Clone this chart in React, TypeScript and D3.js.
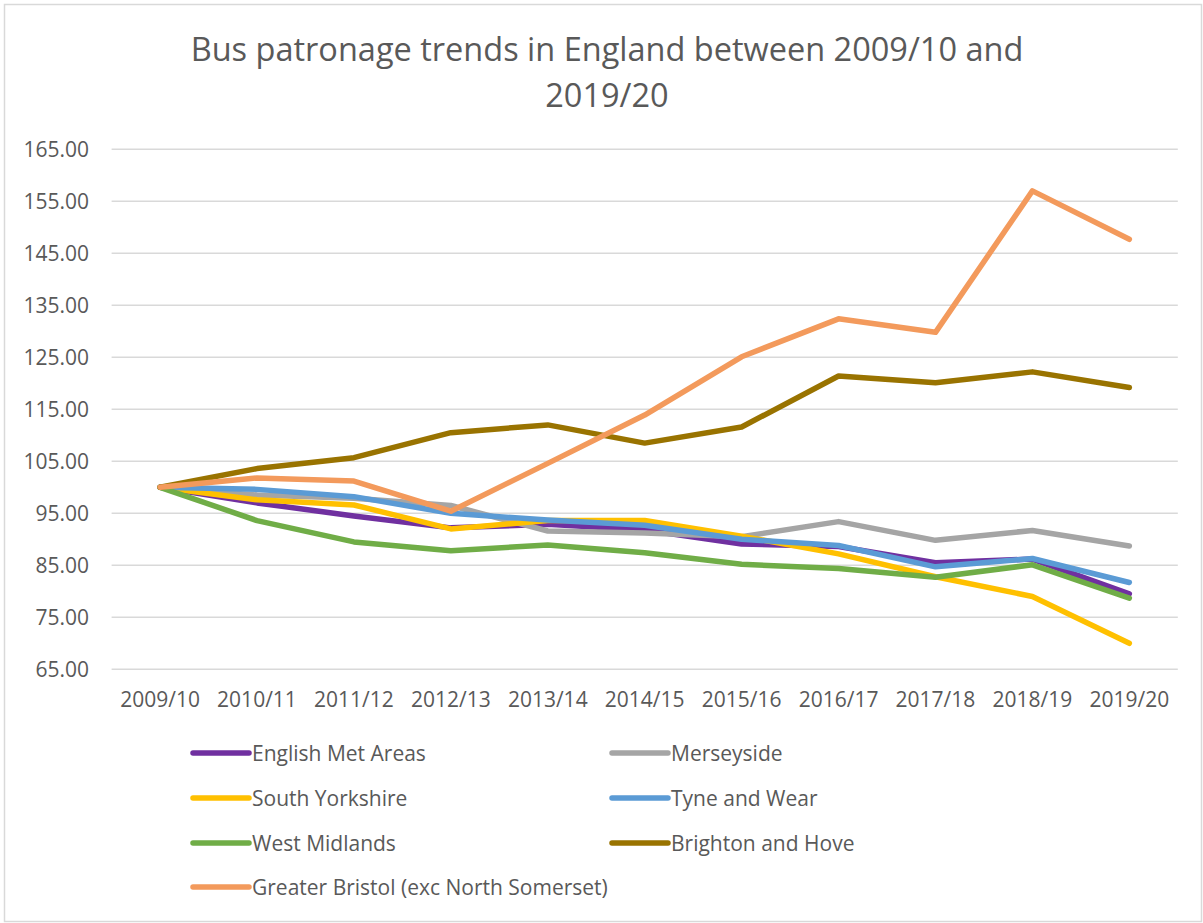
import React from "react";
import * as d3 from "d3";

const categories = ["2009/10", "2010/11", "2011/12", "2012/13", "2013/14", "2014/15", "2015/16", "2016/17", "2017/18", "2018/19", "2019/20"];
const yTicks = [65, 75, 85, 95, 105, 115, 125, 135, 145, 155, 165];

const englishMetAreas = [100, 97.0, 94.5, 92.2, 92.9, 91.8, 89.1, 88.6, 85.5, 86.2, 79.5];
const merseyside = [100, 98.5, 97.9, 96.5, 91.6, 91.2, 90.5, 93.4, 89.8, 91.7, 88.7];
const southYorkshire = [100, 97.6, 96.6, 92.0, 93.6, 93.6, 90.6, 87.2, 82.8, 79.0, 70.0];
const tyneAndWear = [100, 99.6, 98.2, 95.0, 93.7, 92.7, 90.0, 88.8, 84.7, 86.3, 81.7];
const westMidlands = [100, 93.6, 89.5, 87.8, 88.9, 87.4, 85.2, 84.4, 82.7, 85.1, 78.7];
const brightonAndHove = [100, 103.6, 105.7, 110.5, 112.0, 108.5, 111.6, 121.4, 120.1, 122.2, 119.2];
const greaterBristol = [100, 101.8, 101.2, 95.4, 104.6, 113.9, 125.1, 132.4, 129.8, 157.0, 147.7];

const seriesNames = [
  "English Met Areas",
  "Merseyside",
  "South Yorkshire",
  "Tyne and Wear",
  "West Midlands",
  "Brighton and Hove",
  "Greater Bristol (exc North Somerset)",
];
const seriesValues = [englishMetAreas, merseyside, southYorkshire, tyneAndWear, westMidlands, brightonAndHove, greaterBristol];
const seriesColors = ["#7030a0", "#a5a5a5", "#ffc000", "#5b9bd5", "#70ad47", "#997300", "#f39a5c"];

const W = 1203;
const H = 923;
const FONT = "'Open Sans', sans-serif";
const TEXT = "#595959";

export default function App() {
  const x = d3.scaleBand<string>().domain(categories).range([111.6, 1177.8]).paddingInner(0).paddingOuter(0);
  const y = d3.scaleLinear().domain([65, 165]).range([669.3, 149.3]);
  const cx = (c: string) => (x(c) as number) + x.bandwidth() / 2;
  const line = d3
    .line<number>()
    .x((_, i) => cx(categories[i]))
    .y((d) => y(d));

  const legendRows = [753, 798, 843, 887];
  const legendCols = [193, 612];

  return (
    <svg width={W} height={H} style={{ position: "absolute", left: 0, top: 0, background: "#fff" }}>
      <rect x={4.5} y={4.5} width={1197} height={917} fill="#fff" stroke="#d9d9d9" strokeWidth={1.5} />
      <text x={607} y={61} textAnchor="middle" fontFamily={FONT} fontWeight={400} fontSize={32.5} fill={TEXT}>
        Bus patronage trends in England between 2009/10 and
      </text>
      <text x={607} y={107} textAnchor="middle" fontFamily={FONT} fontWeight={400} fontSize={32.5} fill={TEXT}>
        2019/20
      </text>
      {yTicks.map((t) => (
        <g key={t}>
          <line x1={111.6} x2={1177.8} y1={y(t)} y2={y(t)} stroke="#d9d9d9" strokeWidth={1.5} />
          <text x={89} y={y(t) + 7.5} textAnchor="end" fontFamily={FONT} fontSize={21} fill={TEXT}>
            {t.toFixed(2)}
          </text>
        </g>
      ))}
      {categories.map((c) => (
        <text key={c} x={cx(c)} y={706.5} textAnchor="middle" fontFamily={FONT} fontSize={21} fill={TEXT}>
          {c}
        </text>
      ))}
      {seriesValues.map((vals, i) => (
        <path
          key={seriesNames[i]}
          d={line(vals) as string}
          fill="none"
          stroke={seriesColors[i]}
          strokeWidth={5.5}
          strokeLinejoin="round"
          strokeLinecap="round"
        />
      ))}
      {seriesNames.map((name, i) => {
        const col = i === 6 ? 0 : i % 2;
        const row = Math.floor(i / 2);
        const lx = legendCols[col];
        const ly = legendRows[row];
        return (
          <g key={name}>
            <line x1={lx} x2={lx + 56} y1={ly} y2={ly} stroke={seriesColors[i]} strokeWidth={5.5} strokeLinecap="round" />
            <text x={lx + 59} y={ly + 7.5} fontFamily={FONT} fontSize={21} fill={TEXT}>
              {name}
            </text>
          </g>
        );
      })}
    </svg>
  );
}
